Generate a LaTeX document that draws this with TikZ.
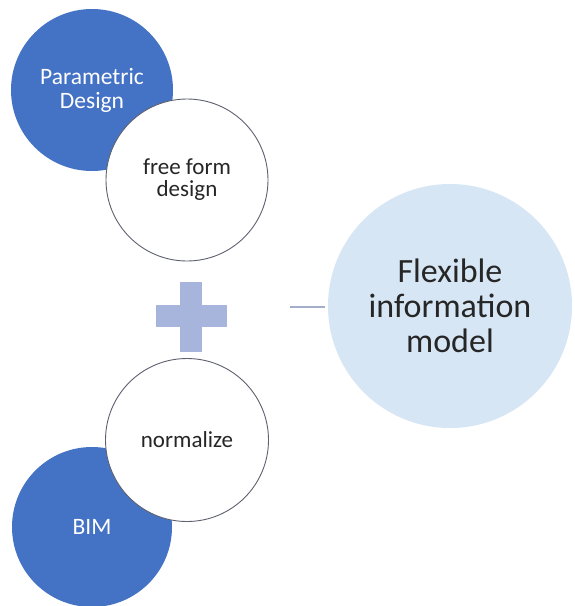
\documentclass[tikz,border=0pt]{standalone}
\usepackage{fontspec}
\setmainfont{Carlito}
\definecolor{darkblue}{HTML}{4472C4}
\definecolor{pluscol}{HTML}{A7B4DC}
\definecolor{linecol}{HTML}{A3AECB}
\definecolor{bigfill}{HTML}{D7E6F4}
\definecolor{ringcol}{HTML}{5F6170}
\begin{document}
\begin{tikzpicture}[x=1pt,y=-1pt,
  bluecirc/.style={circle,fill=darkblue,inner sep=0pt,align=center,text=white,
    font=\fontsize{23.5}{24}\selectfont},
  whitecirc/.style={circle,fill=white,draw=ringcol,line width=0.9pt,inner sep=0pt,align=center,
    text=black!85,font=\fontsize{23}{22}\selectfont},
  bigcirc/.style={circle,fill=bigfill,inner sep=0pt,align=center,text=black!85,
    font=\fontsize{34}{35}\selectfont},
  plusbar/.style={fill=pluscol},
  linkline/.style={draw=linecol,line width=1.6pt}]
\useasboundingbox (0,0) rectangle (575,606);
\clip (0,0) rectangle (575,606);
\fill[white] (0,0) rectangle (575,606);
\node[bluecirc,minimum size=162pt] (param) at (92,90) {Parametric\\Design};
\node[whitecirc,minimum size=162pt] (free) at (187,180) {free form\\design};
\node[bluecirc,minimum size=160pt] (bim) at (92,527) {BIM};
\node[whitecirc,minimum size=163pt] (norm) at (187,440) {normalize};
\node[bigcirc,minimum size=244pt] (flex) at (450,306) {Flexible\\information\\model};
\fill[plusbar] (180,282) rectangle (202,352);
\fill[plusbar] (156,305) rectangle (227,327);
\coordinate (lstart) at (290,307);
\draw[linkline,shorten >=3pt] (lstart) -- (flex.west |- lstart);
\end{tikzpicture}
\end{document}
